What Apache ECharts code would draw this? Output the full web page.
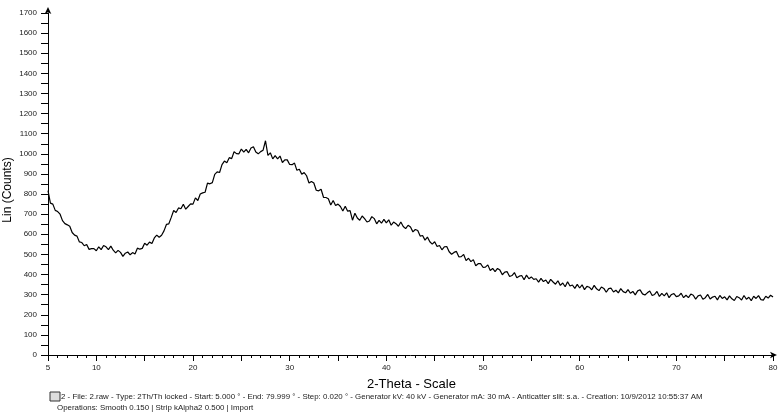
<!DOCTYPE html>
<html>
<head>
<meta charset="utf-8">
<script src="https://cdn.jsdelivr.net/npm/echarts@6/dist/echarts.min.js"></script>
<style>
html, body { margin: 0; padding: 0; background: #fff; }
#xrd { width: 778px; height: 416px; }
</style>
</head>
<body>
<div id="xrd"></div>
<script>
// scan: 5..80 deg 2-theta, values read every 0.25 deg
var scanStart = 5;
var scanStep = 0.25;

var counts = [
    817, 755, 750, 719, 713, 700, 668, 653, 647, 640, 609, 596, 591, 562, 559, 543, 549, 525, 529, 529,
    518, 538, 524, 544, 538, 524, 541, 521, 508, 520, 510, 490, 506, 512, 498, 509, 502, 531, 526, 530,
    555, 546, 561, 554, 582, 596, 585, 595, 617, 649, 652, 684, 718, 708, 731, 727, 749, 725, 738, 751,
    750, 781, 768, 800, 806, 809, 854, 851, 857, 898, 910, 907, 946, 964, 956, 981, 976, 1010, 1001, 1000,
    1024, 1008, 1022, 1005, 1029, 1035, 1009, 1000, 1011, 1018, 1065, 992, 1005, 975, 991, 975, 989, 957, 970, 970,
    947, 946, 954, 918, 923, 899, 907, 891, 855, 863, 855, 819, 816, 824, 784, 783, 777, 746, 768, 743,
    750, 738, 716, 739, 715, 718, 670, 705, 681, 670, 691, 678, 661, 666, 688, 678, 652, 669, 655, 674,
    657, 672, 645, 661, 653, 640, 661, 639, 628, 645, 636, 612, 624, 619, 591, 594, 571, 586, 563, 551,
    563, 539, 544, 523, 538, 539, 513, 501, 510, 515, 488, 489, 500, 469, 481, 464, 474, 444, 454, 454,
    436, 437, 448, 420, 430, 415, 430, 422, 399, 412, 414, 390, 395, 410, 384, 392, 395, 374, 397, 379,
    388, 376, 379, 362, 381, 365, 373, 355, 376, 363, 352, 369, 346, 358, 339, 364, 343, 348, 331, 351,
    333, 349, 325, 341, 337, 324, 346, 329, 320, 338, 331, 312, 330, 332, 313, 322, 309, 330, 315, 309,
    325, 307, 316, 299, 319, 324, 304, 298, 309, 318, 296, 301, 316, 291, 306, 294, 309, 285, 301, 305,
    290, 294, 307, 285, 297, 285, 303, 297, 278, 294, 298, 277, 285, 301, 278, 288, 292, 274, 296, 281,
    289, 274, 294, 279, 271, 291, 285, 273, 296, 277, 287, 270, 292, 281, 295, 275, 273, 292, 283, 297,
    288
];

var xLabelValues = [5, 10, 20, 30, 40, 50, 60, 70, 80];
var yMax = 1700;

var infoLine1 = "2 - File: 2.raw - Type: 2Th/Th locked - Start: 5.000 \u00b0 - End: 79.999 \u00b0 - Step: 0.020 \u00b0 - Generator kV: 40 kV - Generator mA: 30 mA - Anticatter slit: s.a. - Creation: 10/9/2012 10:55:37 AM";
var infoLine2 = "Operations: Smooth 0.150 | Strip kAlpha2 0.500 | Import";

function build_points()
{
    var pts = [];
    var i = 0;
    for (i = 0; i < counts.length; i++)
    {
        pts.push([scanStart + i * scanStep, counts[i]]);
    }
    return pts;
}

function chart_setup()
{
    var chart = echarts.init(document.getElementById("xrd"), null, {renderer: "canvas"});
    var axisText = {color: "#222", fontFamily: "Liberation Sans", fontSize: 8};

    var option = {
        animation: false,
        backgroundColor: "#fff",
        grid: {left: 48, right: 5, top: 13, bottom: 61, containLabel: false, outerBoundsMode: "none"},
        xAxis: {
            type: "value",
            min: 5,
            max: 80,
            interval: 5,
            axisLine: {show: true, lineStyle: {color: "#000", width: 1}, symbol: ["none", "arrow"], symbolSize: [5, 7], symbolOffset: [0, 4]},
            axisTick: {show: true, length: 6, lineStyle: {color: "#000"}},
            minorTick: {show: true, splitNumber: 5, length: 3, lineStyle: {color: "#000"}},
            splitLine: {show: false},
            axisLabel: {
                margin: 9,
                color: axisText.color, fontFamily: axisText.fontFamily, fontSize: axisText.fontSize,
                showMaxLabel: true,
                hideOverlap: false,
                formatter: function (v) { return xLabelValues.indexOf(v) >= 0 ? String(v) : ""; }
            }
        },
        yAxis: {
            type: "value",
            min: 0,
            max: yMax,
            interval: 100,
            axisLine: {show: true, lineStyle: {color: "#000", width: 1}, symbol: ["none", "arrow"], symbolSize: [5, 7], symbolOffset: [0, 6]},
            axisTick: {show: true, length: 7, lineStyle: {color: "#000"}},
            minorTick: {show: true, splitNumber: 2, length: 7, lineStyle: {color: "#000"}},
            splitLine: {show: false},
            axisLabel: {
                margin: 11,
                color: axisText.color, fontFamily: axisText.fontFamily, fontSize: axisText.fontSize,
                formatter: function (v) { return String(v); }
            }
        },
        series: [{
            type: "line",
            data: build_points(),
            showSymbol: false,
            smooth: false,
            lineStyle: {color: "#000", width: 1.2}
        }],
        graphic: [
            {type: "text", x: 8, y: 190, rotation: Math.PI / 2, style: {text: "Lin (Counts)", fill: "#000", font: "12px 'Liberation Sans'", align: "center", verticalAlign: "middle"}},
            {type: "text", left: 367, top: 378, style: {text: "2-Theta - Scale", fill: "#000", font: "13px 'Liberation Sans'"}},
            {type: "rect", shape: {x: 50, y: 392, width: 10, height: 9}, style: {fill: "#ddd", stroke: "#333", lineWidth: 1}},
            {type: "text", left: 61, top: 393, style: {text: infoLine1, fill: "#222", font: "7.9px 'Liberation Sans'"}},
            {type: "text", left: 57, top: 404, style: {text: infoLine2, fill: "#222", font: "7.9px 'Liberation Sans'"}}
        ]
    };
    chart.setOption(option);
}

chart_setup();
</script>
</body>
</html>
